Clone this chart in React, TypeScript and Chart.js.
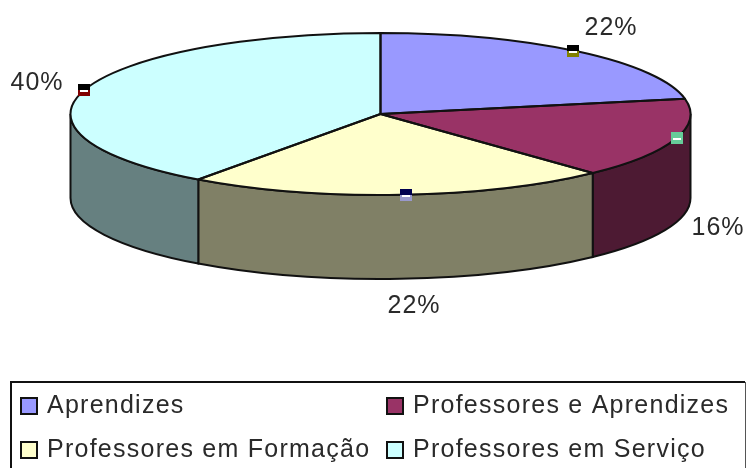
import React, { useEffect, useRef } from "react";
import { Chart, registerables } from "chart.js";

Chart.register(...registerables);

const categories = ["Aprendizes", "Professores e Aprendizes", "Professores em Formação", "Professores em Serviço"];
const shares = [22, 16, 22, 40];
const topColors = ["#9999FF", "#993366", "#FFFFCC", "#CCFFFF"];
const sideColors = ["#4C4C80", "#4D1A33", "#808066", "#668080"];
const markerColors = ["#808000", "#66CC99", "#9999CC", "#800000"];
const markerTops = ["#000000", "#66CC99", "#000050", "#000000"];

const RX = 310;
const RY = 81;
const DEPTH = 84;
const FONT = "'Liberation Sans', Arial, sans-serif";
const INK = "#2a2a2a";

const labelPos = [
  [611, 28],
  [718, 228],
  [414, 306],
  [37, 83],
];

const pie3d = {
  id: "pie3d",
  beforeDatasetsDraw(chart: any) {
    const ctx = chart.ctx;
    const arcs = chart.getDatasetMeta(0).data;
    const { x: cx, y: cy } = arcs[0];
    // side walls (front half of the rim only)
    arcs.forEach((arc: any, i: number) => {
      const a0 = Math.max(arc.startAngle, 0);
      const a1 = Math.min(arc.endAngle, Math.PI);
      if (a1 <= a0) return;
      ctx.save();
      ctx.beginPath();
      ctx.ellipse(cx, cy, RX, RY, 0, a0, a1);
      ctx.ellipse(cx, cy + DEPTH, RX, RY, 0, a1, a0, true);
      ctx.closePath();
      ctx.fillStyle = sideColors[i];
      ctx.fill();
      ctx.lineWidth = 2;
      ctx.strokeStyle = "#111";
      ctx.stroke();
      ctx.restore();
    });
    ctx.save();
    ctx.translate(cx, cy);
    ctx.scale(1, RY / RX);
    ctx.translate(-cx, -cy);
  },
  afterDatasetsDraw(chart: any) {
    const ctx = chart.ctx;
    ctx.restore();
    const arcs = chart.getDatasetMeta(0).data;
    const { x: cx, y: cy } = arcs[0];

    // slice outlines
    ctx.save();
    ctx.lineWidth = 2;
    ctx.strokeStyle = "#111";
    ctx.lineJoin = "round";
    arcs.forEach((arc: any) => {
      ctx.beginPath();
      ctx.moveTo(cx, cy);
      ctx.ellipse(cx, cy, RX, RY, 0, arc.startAngle, arc.endAngle);
      ctx.closePath();
      ctx.stroke();
    });
    ctx.restore();

    // rim markers and percentage labels
    const total = shares.reduce((s, v) => s + v, 0);
    const nudge = (1.1 * Math.PI) / 180;
    arcs.forEach((arc: any, i: number) => {
      const mid = (arc.startAngle + arc.endAngle) / 2 - nudge;
      const mx = Math.round(cx + RX * Math.cos(mid));
      const my = Math.round(cy + RY * Math.sin(mid));
      ctx.fillStyle = markerColors[i];
      ctx.fillRect(mx - 6, my - 6, 12, 12);
      ctx.fillStyle = markerTops[i];
      ctx.fillRect(mx - 6, my - 6, 12, 6);
      ctx.fillStyle = "#fff";
      ctx.fillRect(mx - 4, my, 8, 2);

      ctx.save();
      ctx.fillStyle = INK;
      ctx.font = `25px ${FONT}`;
      ctx.letterSpacing = "1px";
      ctx.textAlign = "center";
      ctx.textBaseline = "middle";
      const [lx, ly] = labelPos[i];
      ctx.fillText(`${Math.round((shares[i] / total) * 100)}%`, lx, ly);
      ctx.restore();
    });

    // legend
    ctx.save();
    ctx.strokeStyle = "#111";
    ctx.lineWidth = 2;
    ctx.beginPath();
    ctx.moveTo(745, 382);
    ctx.lineTo(11, 382);
    ctx.lineTo(11, 470);
    ctx.stroke();
    ctx.lineWidth = 1;
    ctx.strokeStyle = "#555";
    ctx.beginPath();
    ctx.moveTo(745.5, 382);
    ctx.lineTo(745.5, 470);
    ctx.stroke();
    const colX = [21, 387];
    const rowY = [398, 442];
    categories.forEach((name, i) => {
      const x = colX[i % 2];
      const y = rowY[Math.floor(i / 2)];
      ctx.fillStyle = topColors[i];
      ctx.fillRect(x, y, 16, 16);
      ctx.strokeStyle = "#111";
      ctx.lineWidth = 2;
      ctx.strokeRect(x, y, 16, 16);
      ctx.fillStyle = INK;
      ctx.font = `25px ${FONT}`;
      ctx.letterSpacing = "1.25px";
      ctx.textAlign = "left";
      ctx.textBaseline = "alphabetic";
      ctx.fillText(name, x + 26, y + 15);
    });
    ctx.restore();
  },
};

export default function App() {
  const ref = useRef<HTMLCanvasElement>(null);
  useEffect(() => {
    if (!ref.current) return;
    const chart = new Chart(ref.current, {
      type: "pie",
      data: {
        labels: categories,
        datasets: [
          {
            data: shares,
            backgroundColor: topColors,
            borderWidth: 0,
            radius: RX,
            clip: false,
          } as any,
        ],
      },
      options: {
        responsive: false,
        animation: false,
        layout: { padding: { left: 15, bottom: 240 } },
        plugins: { legend: { display: false }, tooltip: { enabled: false } },
      },
      plugins: [pie3d],
    });
    return () => chart.destroy();
  }, []);
  return (
    <div style={{ position: "fixed", left: 0, top: 0, width: 746, height: 468, background: "#fff" }}>
      <canvas ref={ref} width={746} height={468} style={{ display: "block", filter: "blur(0.4px)" }} />
    </div>
  );
}
